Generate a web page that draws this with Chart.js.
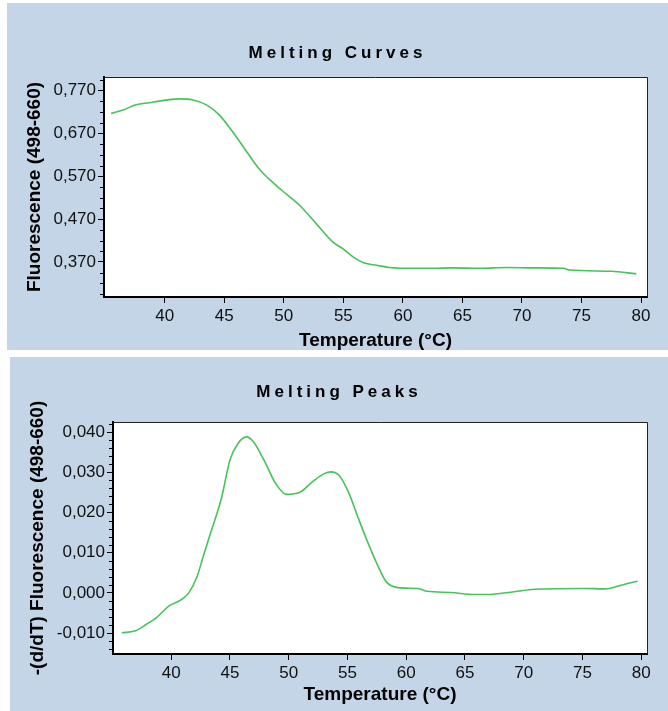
<!DOCTYPE html>
<html>
<head>
<meta charset="utf-8">
<script src="https://cdn.jsdelivr.net/npm/chart.js@4.4.1/dist/chart.umd.min.js"></script>
<style>
  body { margin: 0; background: #fff; width: 668px; height: 711px; position: relative; overflow: hidden; }
  canvas { position: absolute; background: #c3d5e6; }
  #curves { left: 7px; top: 3px; }
  #peaks { left: 10px; top: 357px; }
</style>
</head>
<body>
<canvas id="curves" width="661" height="347"></canvas>
<canvas id="peaks" width="658" height="354"></canvas>
<script>
// temperature axis, shared by both panels
const tempTicks = [40, 45, 50, 55, 60, 65, 70, 75, 80];

// melting curve: fluorescence (498-660)
const curveTemps = [35.5, 36.5, 37.6, 38.7, 40.1, 41.3, 42.3, 43.5, 44.6, 45.7, 46.8, 47.9, 48.7, 49.8, 51.3, 52.7,
  54.1, 55.0, 55.9, 56.7, 57.8, 58.9, 60.9, 62.6, 64.0, 66.5, 68.7, 71.0, 73.5, 74.0, 77.5, 79.6];
const curveValues = [0.717, 0.725, 0.737, 0.742, 0.748, 0.751, 0.749, 0.737, 0.713, 0.674, 0.631, 0.588, 0.565, 0.538, 0.503, 0.460,
  0.417, 0.400, 0.380, 0.368, 0.362, 0.357, 0.355, 0.355, 0.356, 0.355, 0.357, 0.356, 0.355, 0.351, 0.348, 0.342];
const curveTicks = [0.370, 0.470, 0.570, 0.670, 0.770];

// melting peaks: -(d/dT) fluorescence
const peakTemps = [35.8, 36.9, 37.9, 38.8, 39.8, 40.8, 41.5, 42.2, 42.7, 43.3, 44.3, 45.0, 45.7, 46.4, 47.0, 47.9,
  48.9, 49.8, 51.0, 52.1, 53.0, 53.6, 54.3, 55.1, 55.9, 56.7, 57.6, 58.3, 59.3, 61.0, 61.8, 63.8,
  65.8, 66.9, 69.2, 70.9, 75.1, 76.9, 78.3, 79.7];
const peakValues = [-0.0099, -0.0095, -0.0078, -0.0060, -0.0033, -0.0018, 0.0000, 0.0040, 0.0088, 0.0144, 0.0238, 0.0330, 0.0372, 0.0388, 0.0376, 0.0330,
  0.0272, 0.0245, 0.0251, 0.0278, 0.0296, 0.0301, 0.0292, 0.0250, 0.0188, 0.0128, 0.0067, 0.0028, 0.0013, 0.0011, 0.0004, 0.0001,
  -0.0004, -0.0004, 0.0003, 0.0009, 0.0011, 0.0010, 0.0019, 0.0029];
const peakTicks = [-0.010, 0.000, 0.010, 0.020, 0.030, 0.040];

const FONT = '"Liberation Sans", Arial, sans-serif';
const LINE = '#46c35a';

function fmt(v) {
  if (Math.abs(v) < 1e-9) v = 0;
  return v.toFixed(3).replace('.', ',');
}

// minor ticks between the labelled ones
function minorTicks(major, step, min, max) {
  const out = [];
  const base = major[0];
  for (let k = -200; k <= 200; k++) {
    const v = +(base + k * step).toFixed(6);
    if (v < min || v > max) continue;
    if (major.some(m => Math.abs(m - v) < 1e-9)) continue;
    out.push(v);
  }
  return out;
}

const panelDecor = {
  id: 'panelDecor',
  beforeDraw(chart) {
    const {ctx, chartArea: a} = chart;
    ctx.save();
    ctx.fillStyle = '#fff';
    ctx.fillRect(a.left, a.top, a.right - a.left, a.bottom - a.top);
    ctx.restore();
  },
  afterDraw(chart, args, opts) {
    const {ctx, chartArea: a} = chart;
    const ys = chart.scales.y;
    ctx.save();
    ctx.strokeStyle = '#222';
    ctx.lineWidth = 1;
    ctx.beginPath();
    ctx.moveTo(a.left, a.top + 0.5);
    ctx.lineTo(a.right + 0.5, a.top + 0.5);
    ctx.lineTo(a.right + 0.5, a.bottom);
    ctx.stroke();

    ctx.strokeStyle = '#000';
    ctx.beginPath();
    opts.minor.forEach(v => {
      const py = Math.round(ys.getPixelForValue(v)) + 0.5;
      ctx.moveTo(a.left - 4, py);
      ctx.lineTo(a.left, py);
    });
    ctx.stroke();

    ctx.font = 'bold 17px ' + FONT;
    ctx.letterSpacing = '4px';
    ctx.textAlign = 'center';
    ctx.textBaseline = 'middle';
    ctx.fillStyle = '#000';
    ctx.fillText(opts.title, chart.width / 2, opts.titleY);
    ctx.restore();
  }
};

function makeChart(id, p) {
  const points = p.temps.map((t, i) => ({x: t, y: p.values[i]}));
  return new Chart(document.getElementById(id), {
    type: 'line',
    data: {
      datasets: [{
        data: points,
        borderColor: LINE,
        borderWidth: 1.6,
        pointRadius: 0,
        cubicInterpolationMode: 'monotone',
        fill: false
      }]
    },
    plugins: [panelDecor],
    options: {
      responsive: false,
      animation: false,
      devicePixelRatio: 1,
      layout: { padding: { top: p.padTop, right: 21, bottom: 0, left: 0 } },
      plugins: {
        legend: { display: false },
        tooltip: { enabled: false },
        panelDecor: { title: p.title, titleY: p.titleY, minor: p.minor }
      },
      scales: {
        x: {
          type: 'linear',
          min: p.xMin, max: p.xMax,
          afterBuildTicks: s => { s.ticks = tempTicks.map(v => ({value: v})); },
          afterFit: s => { s.height = p.xHeight; },
          grid: { drawOnChartArea: false, drawTicks: true, tickLength: 6, tickColor: '#000', tickWidth: 1 },
          border: { display: true, color: '#000', width: 2 },
          ticks: { color: '#111', font: { family: FONT, size: 17 }, padding: 3, maxRotation: 0, autoSkip: false },
          title: {
            display: true, text: 'Temperature (°C)', color: '#000',
            font: { family: FONT, size: 19, weight: 'bold', lineHeight: 1 },
            padding: { top: 0, bottom: p.xTitlePad }
          }
        },
        y: {
          min: p.yMin, max: p.yMax,
          afterBuildTicks: s => { s.ticks = p.ticks.map(v => ({value: v})); },
          afterFit: s => { s.width = p.yWidth; },
          grid: { drawOnChartArea: false, drawTicks: true, tickLength: 6, tickColor: '#000', tickWidth: 1 },
          border: { display: true, color: '#000', width: 2 },
          ticks: { color: '#111', font: { family: FONT, size: 17 }, padding: 2, callback: v => fmt(v) },
          title: {
            display: true, text: p.yTitle, color: '#000',
            font: { family: FONT, size: 19, weight: 'bold', lineHeight: 1 },
            padding: { top: 18, bottom: 0 }
          }
        }
      }
    }
  });
}

makeChart('curves', {
  title: 'Melting Curves', titleY: 50, padTop: 74,
  temps: curveTemps, values: curveValues, ticks: curveTicks,
  minor: minorTicks(curveTicks, 0.025, 0.288, 0.802),
  xMin: 34.9, xMax: 80.5, yMin: 0.288, yMax: 0.802,
  yWidth: 97, xHeight: 53, xTitlePad: 0,
  yTitle: 'Fluorescence (498-660)'
});

makeChart('peaks', {
  title: 'Melting Peaks', titleY: 35, padTop: 65,
  temps: peakTemps, values: peakValues, ticks: peakTicks,
  minor: minorTicks(peakTicks, 0.002, -0.0152, 0.0425),
  xMin: 35.05, xMax: 80.5, yMin: -0.0152, yMax: 0.0425,
  yWidth: 103, xHeight: 57, xTitlePad: 7,
  yTitle: '-(d/dT) Fluorescence (498-660)'
});
</script>
</body>
</html>
